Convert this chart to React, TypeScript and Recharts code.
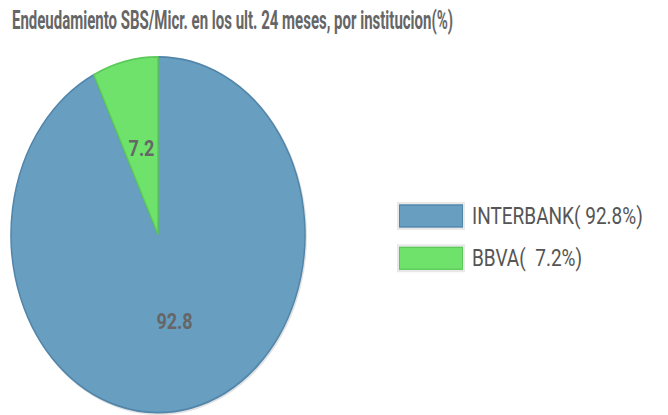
import React from 'react';
import { PieChart, Pie, Cell, Legend } from 'recharts';

const institutions = ['INTERBANK', 'BBVA'];
const shares = [92.8, 7.2];
const fills = ['#689ec0', '#6ee26b'];
const strokes = ['#5285aa', '#5cc95a'];

const TITLE = 'Endeudamiento SBS/Micr. en los ult. 24 meses, por institucion(%)';
const STRETCH = 415 / 343; // the picture is stretched vertically

const data = institutions.map((name, i) => ({ name, value: shares[i] }));

const RADIAN = Math.PI / 180;

const renderLabel = (props: any) => {
  const { cx, cy, midAngle, outerRadius, value } = props;
  const r = outerRadius / 2;
  const x = cx + r * Math.cos(-midAngle * RADIAN);
  const y = cy + r * Math.sin(-midAngle * RADIAN);
  return (
    <text
      x={x}
      y={y}
      textAnchor="middle"
      dominantBaseline="central"
      fill="#666"
      fontSize={18}
      fontWeight={700}
      fontFamily="Roboto, sans-serif"
    >
      {value}
    </text>
  );
};

const LegendBox = () => (
  <div style={{ fontFamily: 'Roboto, sans-serif' }}>
    {data.map((d, i) => (
      <div key={d.name} style={{ display: 'flex', alignItems: 'center', height: 35 }}>
        <div
          style={{
            width: 62,
            height: 17,
            background: fills[i],
            border: `1px solid ${strokes[i]}`,
            boxShadow: '0 0 0 2px #e8e8e8',
            marginRight: 9,
          }}
        />
        <span style={{ fontSize: 19, color: '#555', whiteSpace: 'pre' }}>
          {d.name}({d.value < 10 ? '  ' : ' '}{d.value}%)
        </span>
      </div>
    ))}
  </div>
);

export default function App() {
  return (
    <div
      style={{
        position: 'fixed',
        left: 0,
        top: 0,
        width: 668,
        height: 343,
        background: '#fff',
        transform: `scaleY(${STRETCH})`,
        transformOrigin: '0 0',
      }}
    >
      <svg width={668} height={40} style={{ position: 'absolute', left: 0, top: 0 }}>
        <text
          x={12}
          y={24}
          fill="#666"
          fontSize={22}
          fontWeight={700}
          fontFamily="Roboto, sans-serif"
          textLength={441}
          lengthAdjust="spacingAndGlyphs"
        >
          {TITLE}
        </text>
      </svg>
      <PieChart
        width={668}
        height={343}
        margin={{ top: 0, right: 0, bottom: 0, left: 0 }}
        style={{ position: 'absolute', left: 0, top: 0 }}
      >
        <Pie
          data={[{ value: 1 }]}
          dataKey="value"
          cx={159}
          cy={195}
          outerRadius={148}
          fill="#e2e2e2"
          stroke="none"
          isAnimationActive={false}
        />
        <Pie
          data={data}
          dataKey="value"
          nameKey="name"
          cx={158}
          cy={194}
          outerRadius={147}
          startAngle={90}
          endAngle={-270}
          label={renderLabel}
          labelLine={false}
          isAnimationActive={false}
        >
          {data.map((d, i) => (
            <Cell key={d.name} fill={fills[i]} stroke={strokes[i]} strokeWidth={1.5} />
          ))}
        </Pie>
        <Legend
          layout="vertical"
          align="right"
          verticalAlign="top"
          content={<LegendBox />}
          wrapperStyle={{ left: 399, top: 161, width: 269 }}
        />
      </PieChart>
    </div>
  );
}
